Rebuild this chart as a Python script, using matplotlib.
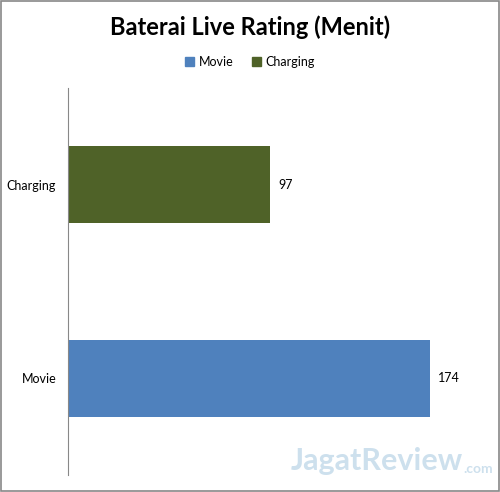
import matplotlib
matplotlib.use("Agg")
import matplotlib.pyplot as plt
from matplotlib.patches import Rectangle, Patch

categories = ["Movie", "Charging"]
values = [174, 97]
colors = ["#4F81BD", "#4F6228"]
title = "Baterai Live Rating (Menit)"

plt.rcParams["font.family"] = ["Lato", "DejaVu Sans"]

fig = plt.figure(figsize=(5.0, 4.92), dpi=100)
ax = fig.add_axes([68 / 500, 1 - 475 / 492, 412 / 500, 387 / 492])

ypos = list(range(len(categories)))
ax.barh(ypos, values, height=0.4, color=colors)
for y, v in zip(ypos, values):
    ax.text(v + 4, y, str(v), va="center", ha="left", fontsize=9)

ax.set_xlim(0, 198)
ax.set_ylim(-0.5, 1.5)
ax.set_yticks(ypos)
ax.set_yticklabels(categories, fontsize=9)
ax.tick_params(axis="y", length=0, pad=8.5)
ax.set_xticks([])
for s in ["top", "right", "bottom"]:
    ax.spines[s].set_visible(False)
ax.spines["left"].set_color("#888888")

fig.text(0.5, 1 - 27 / 492, title, ha="center", va="center",
         fontsize=17, fontweight="bold")

handles = [Patch(color=c, label=l) for c, l in zip(colors, categories)]
fig.legend(handles=handles, loc="center", bbox_to_anchor=(0.5, 1 - 62 / 492),
           ncol=2, frameon=False, fontsize=9, handlelength=0.7,
           handleheight=0.7, handletextpad=0.4, columnspacing=1.5)

# watermark
fig.text(0.925, 0.035, "JagatReview", ha="right", va="bottom", fontsize=22,
         fontweight="bold", color="#B8D3E6", alpha=0.7)
fig.text(0.927, 0.035, ".com", ha="left", va="bottom", fontsize=10,
         fontweight="bold", color="#B8D3E6", alpha=0.7)

fig.patches.append(Rectangle((0.002, 0.002), 0.996, 0.996, transform=fig.transFigure,
                             fill=False, edgecolor="#888888", linewidth=1.2))

fig.savefig("out.png", dpi=100)
